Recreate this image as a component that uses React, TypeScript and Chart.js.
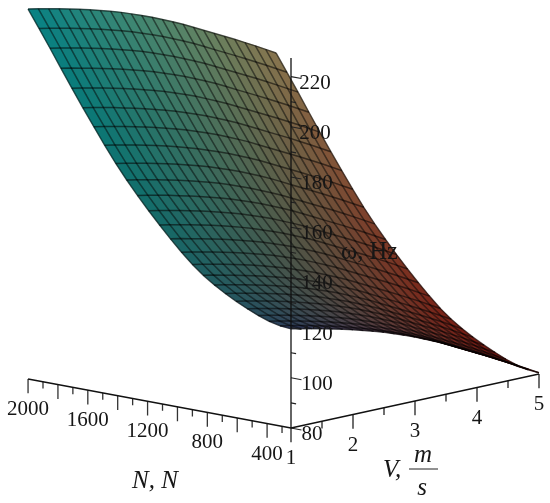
import { useEffect, useRef } from "react";
import { Chart, registerables } from "chart.js";

Chart.register(...registerables);

// Grid of the surface: 25 x 25 samples
const speedGrid = [1, 1.167, 1.333, 1.5, 1.667, 1.833, 2, 2.167, 2.333, 2.5, 2.667, 2.833, 3, 3.167, 3.333, 3.5, 3.667, 3.833, 4, 4.167, 4.333, 4.5, 4.667, 4.833, 5];
const loadGrid = [240, 313, 387, 460, 533, 607, 680, 753, 827, 900, 973, 1047, 1120, 1193, 1267, 1340, 1413, 1487, 1560, 1633, 1707, 1780, 1853, 1927, 2000];

// Frequency in Hz, one row per loadGrid entry, one column per speedGrid entry
const omegaHz = [
  [119.5,118.7,117.8,116.9,115.9,114.9,113.8,112.6,111.4,110.1,108.6,107.1,105.5,103.7,101.9,100,97.9,95.8,93.7,91.6,89.5,87.3,85.1,82.8,80.5],
  [119.9,119.1,118.2,117.3,116.3,115.3,114.2,113,111.8,110.5,109,107.5,105.9,104.1,102.3,100.4,98.3,96.2,94.1,92,89.9,87.7,85.5,83.2,80.9],
  [120.9,120.1,119.2,118.3,117.3,116.3,115.2,114,112.8,111.5,110,108.5,106.9,105.1,103.3,101.4,99.3,97.2,95.1,93,90.9,88.7,86.5,84.2,81.9],
  [122.4,121.6,120.7,119.8,118.8,117.8,116.7,115.5,114.3,113,111.5,110,108.4,106.6,104.8,102.9,100.8,98.7,96.6,94.5,92.4,90.2,88,85.7,83.4],
  [124.3,123.5,122.6,121.7,120.7,119.7,118.6,117.4,116.2,114.9,113.4,111.9,110.3,108.5,106.7,104.8,102.7,100.6,98.5,96.4,94.3,92.1,89.9,87.6,85.3],
  [126.4,125.6,124.7,123.8,122.8,121.8,120.7,119.5,118.3,117,115.5,114,112.4,110.6,108.8,106.9,104.8,102.7,100.6,98.5,96.4,94.2,92,89.7,87.4],
  [128.7,127.9,127,126.1,125.1,124.1,123,121.8,120.6,119.3,117.8,116.3,114.7,112.9,111.1,109.2,107.1,105,102.9,100.8,98.7,96.5,94.3,92,89.7],
  [131.3,130.5,129.6,128.7,127.7,126.7,125.6,124.4,123.2,121.9,120.4,118.9,117.3,115.5,113.7,111.8,109.7,107.6,105.5,103.4,101.3,99.1,96.9,94.6,92.3],
  [134.3,133.5,132.6,131.7,130.7,129.7,128.6,127.4,126.2,124.9,123.4,121.9,120.3,118.5,116.7,114.8,112.7,110.6,108.5,106.4,104.3,102.1,99.9,97.6,95.3],
  [137.8,137,136.1,135.2,134.2,133.2,132.1,130.9,129.7,128.4,126.9,125.4,123.8,122,120.2,118.3,116.2,114.1,112,109.9,107.8,105.6,103.4,101.1,98.8],
  [141.9,141.1,140.2,139.3,138.3,137.3,136.2,135,133.8,132.5,131,129.5,127.9,126.1,124.3,122.4,120.3,118.2,116.1,114,111.9,109.7,107.5,105.2,102.9],
  [146.4,145.6,144.7,143.8,142.8,141.8,140.7,139.5,138.3,137,135.5,134,132.4,130.6,128.8,126.9,124.8,122.7,120.6,118.5,116.4,114.2,112,109.7,107.4],
  [151.1,150.3,149.4,148.5,147.5,146.5,145.4,144.2,143,141.7,140.2,138.7,137.1,135.3,133.5,131.6,129.5,127.4,125.3,123.2,121.1,118.9,116.7,114.4,112.1],
  [156,155.2,154.3,153.4,152.4,151.4,150.3,149.1,147.9,146.6,145.1,143.6,142,140.2,138.4,136.5,134.4,132.3,130.2,128.1,126,123.8,121.6,119.3,117],
  [161.2,160.4,159.5,158.6,157.6,156.6,155.5,154.3,153.1,151.8,150.3,148.8,147.2,145.4,143.6,141.7,139.6,137.5,135.4,133.3,131.2,129,126.8,124.5,122.2],
  [166.6,165.8,164.9,164,163,162,160.9,159.7,158.5,157.2,155.7,154.2,152.6,150.8,149,147.1,145,142.9,140.8,138.7,136.6,134.4,132.2,129.9,127.6],
  [172.4,171.6,170.7,169.8,168.8,167.8,166.7,165.5,164.3,163,161.5,160,158.4,156.6,154.8,152.9,150.8,148.7,146.6,144.5,142.4,140.2,138,135.7,133.4],
  [178.8,178,177.1,176.2,175.2,174.2,173.1,171.9,170.7,169.4,167.9,166.4,164.8,163,161.2,159.3,157.2,155.1,153,150.9,148.8,146.6,144.4,142.1,139.8],
  [185.4,184.6,183.7,182.8,181.8,180.8,179.7,178.5,177.3,176,174.5,173,171.4,169.6,167.8,165.9,163.8,161.7,159.6,157.5,155.4,153.2,151,148.7,146.4],
  [192.1,191.3,190.4,189.5,188.5,187.5,186.4,185.2,184,182.7,181.2,179.7,178.1,176.3,174.5,172.6,170.5,168.4,166.3,164.2,162.1,159.9,157.7,155.4,153.1],
  [199.1,198.3,197.4,196.5,195.5,194.5,193.4,192.2,191,189.7,188.2,186.7,185.1,183.3,181.5,179.6,177.5,175.4,173.3,171.2,169.1,166.9,164.7,162.4,160.1],
  [206.2,205.4,204.5,203.6,202.6,201.6,200.5,199.3,198.1,196.8,195.3,193.8,192.2,190.4,188.6,186.7,184.6,182.5,180.4,178.3,176.2,174,171.8,169.5,167.2],
  [213.4,212.6,211.7,210.8,209.8,208.8,207.7,206.5,205.3,204,202.5,201,199.4,197.6,195.8,193.9,191.8,189.7,187.6,185.5,183.4,181.2,179,176.7,174.4],
  [220.5,219.7,218.8,217.9,216.9,215.9,214.8,213.6,212.4,211.1,209.6,208.1,206.5,204.7,202.9,201,198.9,196.8,194.7,192.6,190.5,188.3,186.1,183.8,181.5],
  [227.4,226.6,225.7,224.8,223.8,222.8,221.7,220.5,219.3,218,216.5,215,213.4,211.6,209.8,207.9,205.8,203.7,201.6,199.5,197.4,195.2,193,190.7,188.4],
];

// Axis ticks
const omegaMajor = [80, 100, 120, 140, 160, 180, 200, 220];
const omegaMinor = [90, 110, 130, 150, 170, 190, 210];
const speedMajor = [1, 2, 3, 4, 5];
const speedMinor = [1.5, 2.5, 3.5, 4.5];
const loadLabelled = [400, 800, 1200, 1600, 2000];
const loadUnlabelled = [600, 1000, 1400, 1800];
const loadMinor = [300, 500, 700, 900, 1100, 1300, 1500, 1700, 1900];

const V0 = 1, V1 = 5, N0 = 240, N1 = 2000, W0 = 80, W1 = 227.4;

// Fixed orthographic view of the 3-D box
function project(v: number, n: number, w: number) {
  return {
    x: 291 + (v - 1) * 62 - (n - N0) * 0.1494,
    y: 428 - (v - 1) * 13.5 - (n - N0) * 0.02784 - (w - 80) * 2.51,
  };
}

function shade(v: number, n: number, w: number) {
  const a = (v - V0) / (V1 - V0);
  const u = (n - N0) / (N1 - N0);
  const h = (w - W0) / (W1 - W0);
  const r = 8 + a * (135 - 25 * (1 - h)) + 90 * Math.pow(1 - h, 3) * (1 - a);
  const g = 18 + (1 - a) * (28 + 84 * Math.sqrt(u)) + a * 135 * h;
  const b = 78 * (1 - a) + 12 * a + h * (55 * (1 - a) + 90 * a);
  return `rgb(${Math.round(r)},${Math.round(g)},${Math.round(b)})`;
}

function lineSet(points: { x: number; y: number }[], color: string, width: number) {
  return { data: points, showLine: true, borderColor: color, borderWidth: width, pointRadius: 0, fill: false };
}

function buildDatasets() {
  const axes: any[] = [];
  const black = "#111";
  axes.push(lineSet([project(V0, N0, W0), project(V0, N0, W1)], black, 1.3));
  axes.push(lineSet([project(V0, N0, W0), project(V1, N0, W0)], black, 1.3));
  axes.push(lineSet([project(V0, N0, W0), project(V0, N1, W0)], black, 1.3));
  const omegaTick = (w: number, dn: number) => lineSet([project(V0, N0, w), project(V0, N0 - dn, w)], "#222", 1.1);
  omegaMajor.forEach((w) => axes.push(omegaTick(w, 70)));
  omegaMinor.forEach((w) => axes.push(omegaTick(w, 34)));
  const speedTick = (v: number, d: number) => lineSet([project(v, N0, W0), project(v, N0, W0 - d)], "#222", 1.3);
  speedMajor.forEach((v) => axes.push(speedTick(v, 5.7)));
  speedMinor.forEach((v) => axes.push(speedTick(v, 2.9)));
  const loadTick = (n: number, d: number) => lineSet([project(V0, n, W0), project(V0, n, W0 - d)], "#333", 1.3);
  loadLabelled.forEach((n) => axes.push(loadTick(n, 5.7)));
  loadUnlabelled.forEach((n) => axes.push(loadTick(n, 5.7)));
  loadMinor.forEach((n) => axes.push(loadTick(n, 2.7)));

  const mesh: any[] = [];
  loadGrid.forEach((n, i) => {
    mesh.push(lineSet(speedGrid.map((v, j) => project(v, n, omegaHz[i][j])), "rgba(0,0,0,0.55)", 1.5));
  });
  speedGrid.forEach((v, j) => {
    mesh.push(lineSet(loadGrid.map((n, i) => project(v, n, omegaHz[i][j])), "rgba(0,0,0,0.5)", 1.5));
  });

  const quads: any[] = [];
  for (let i = 0; i < loadGrid.length - 1; i++) {
    for (let j = 0; j < speedGrid.length - 1; j++) {
      const corners = [
        project(speedGrid[j], loadGrid[i], omegaHz[i][j]),
        project(speedGrid[j + 1], loadGrid[i], omegaHz[i][j + 1]),
        project(speedGrid[j + 1], loadGrid[i + 1], omegaHz[i + 1][j + 1]),
        project(speedGrid[j], loadGrid[i + 1], omegaHz[i + 1][j]),
        project(speedGrid[j], loadGrid[i], omegaHz[i][j]),
      ];
      const c = shade(
        (speedGrid[j] + speedGrid[j + 1]) / 2,
        (loadGrid[i] + loadGrid[i + 1]) / 2,
        (omegaHz[i][j] + omegaHz[i][j + 1] + omegaHz[i + 1][j] + omegaHz[i + 1][j + 1]) / 4,
      );
      quads.push({ data: corners, showLine: true, borderColor: c, backgroundColor: c, borderWidth: 0.7, pointRadius: 0, fill: "shape" });
    }
  }
  // the lowest index is painted last
  return [...axes, ...mesh, ...quads];
}

const textPlugin = {
  id: "axisText",
  afterDatasetsDraw(chart: any) {
    const { ctx, scales } = chart;
    const at = (p: { x: number; y: number }) => ({
      x: scales.x.getPixelForValue(p.x),
      y: scales.y.getPixelForValue(p.y),
    });
    ctx.save();
    ctx.fillStyle = "#161616";
    ctx.textAlign = "center";
    ctx.textBaseline = "alphabetic";
    ctx.font = "21px 'Liberation Serif'";
    omegaMajor.forEach((w, k) => {
      const p = at(project(V0, N0, w));
      ctx.fillText(String(w), p.x + (k === 0 ? 21 : k > 5 ? 24 : 26), p.y + 12);
    });
    speedMajor.forEach((v) => {
      const p = at(project(v, N0, W0));
      ctx.fillText(String(v), p.x, p.y + 36);
    });
    loadLabelled.forEach((n) => {
      const p = at(project(V0, n, W0));
      ctx.fillText(String(n), p.x, p.y + 36);
    });
    ctx.font = "24.5px 'Liberation Serif'";
    ctx.textAlign = "left";
    ctx.fillText("ω, Hz", 341, 259);
    ctx.font = "italic 25px 'Liberation Serif'";
    ctx.fillText("N, N", 132, 488);
    ctx.fillText("V,", 383, 477);
    ctx.textAlign = "center";
    ctx.fillText("m", 423, 462);
    ctx.fillText("s", 422, 495);
    ctx.strokeStyle = "#222";
    ctx.lineWidth = 1;
    ctx.beginPath();
    ctx.moveTo(409, 469);
    ctx.lineTo(438, 469);
    ctx.stroke();
    ctx.restore();
  },
};

export default function App() {
  const ref = useRef<HTMLCanvasElement>(null);
  useEffect(() => {
    const chart = new Chart(ref.current!, {
      type: "scatter",
      data: { datasets: buildDatasets() },
      options: {
        animation: false,
        responsive: false,
        parsing: false,
        layout: { padding: 0 },
        plugins: { legend: { display: false }, tooltip: { enabled: false } },
        scales: {
          x: { type: "linear", min: 0, max: 550, display: false },
          y: { type: "linear", min: 0, max: 503, reverse: true, display: false },
        },
      },
      plugins: [textPlugin],
    } as any);
    return () => chart.destroy();
  }, []);
  return (
    <div style={{ position: "absolute", left: 0, top: 0, width: 550, height: 503, background: "#fff" }}>
      <canvas ref={ref} width={550} height={503} style={{ display: "block", filter: "blur(0.55px)" }} />
    </div>
  );
}
